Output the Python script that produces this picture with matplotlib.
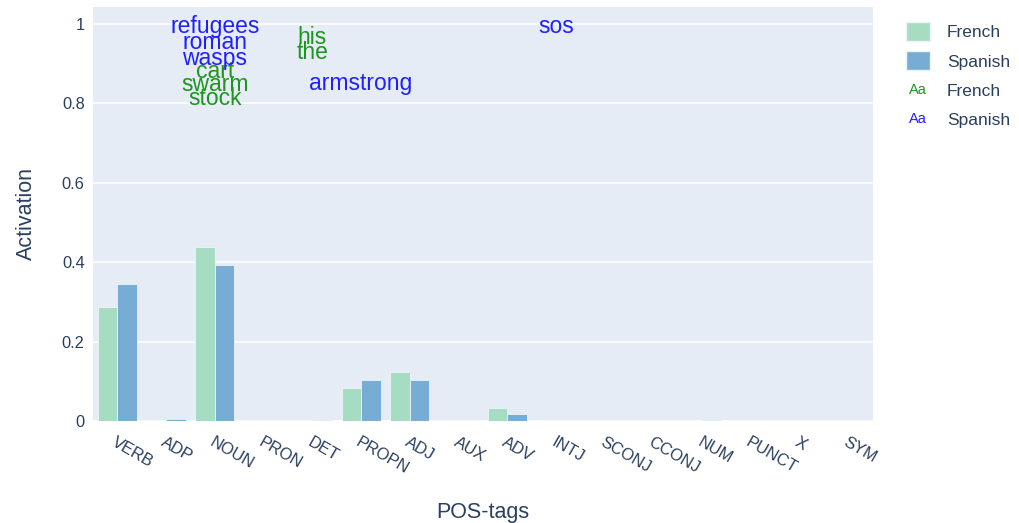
import numpy as np
import matplotlib.pyplot as plt
import matplotlib.text as mtext
from matplotlib.patches import Patch
from matplotlib.legend_handler import HandlerBase

plt.rcParams['font.family'] = ['Liberation Sans', 'DejaVu Sans']

pos_tags = ["VERB", "ADP", "NOUN", "PRON", "DET", "PROPN", "ADJ", "AUX",
            "ADV", "INTJ", "SCONJ", "CCONJ", "NUM", "PUNCT", "X", "SYM"]
french = [0.287, 0.001, 0.438, 0.001, 0.001, 0.083, 0.123, 0.0,
          0.033, 0.0, 0.0, 0.001, 0.0, 0.001, 0.001, 0.001]
spanish = [0.345, 0.006, 0.393, 0.001, 0.003, 0.103, 0.103, 0.0,
           0.017, 0.001, 0.001, 0.001, 0.002, 0.001, 0.001, 0.001]

# top activating words: (word, pos tag, activation)
french_words = [("cart", "NOUN", 0.880), ("swarm", "NOUN", 0.848), ("stock", "NOUN", 0.812),
                ("his", "DET", 0.967), ("the", "DET", 0.928)]
spanish_words = [("refugees", "NOUN", 0.995), ("roman", "NOUN", 0.953), ("wasps", "NOUN", 0.914),
                 ("armstrong", "PROPN", 0.850), ("sos", "INTJ", 0.995)]

fr_bar = '#a6dcc1'
es_bar = '#77acd4'
fr_txt = '#1e961e'
es_txt = '#2020ff'
axis_col = '#2a3f5f'


class TextHandler(HandlerBase):
    def create_artists(self, legend, orig_handle, xdescent, ydescent,
                       width, height, fontsize, trans):
        t = mtext.Text(width / 2 - xdescent, height / 2 - ydescent, "Aa",
                       color=orig_handle.get_color(), fontsize=10.5,
                       ha='center', va='center', transform=trans)
        return [t]


fig = plt.figure(figsize=(10.2, 5.23), dpi=100)
ax = fig.add_axes([93 / 1020, 1 - 421 / 523, 780 / 1020, 414 / 523])
ax.set_facecolor('#e5ecf6')

x = np.arange(len(pos_tags))
w = 0.4
ax.bar(x - w / 2, french, w, color=fr_bar, edgecolor='#eef3f8', linewidth=0.6, zorder=3)
ax.bar(x + w / 2, spanish, w, color=es_bar, edgecolor='#eef3f8', linewidth=0.6, zorder=3)

idx = {p: i for i, p in enumerate(pos_tags)}
for word, tag, val in french_words:
    ax.text(idx[tag], val, word, color=fr_txt, fontsize=16.5, ha='center', va='center', zorder=4)
for word, tag, val in spanish_words:
    ax.text(idx[tag], val, word, color=es_txt, fontsize=16.5, ha='center', va='center', zorder=4)

ax.set_xlim(-0.5, len(pos_tags) - 0.5)
ax.set_ylim(0, 1.043)
ax.set_yticks([0, 0.2, 0.4, 0.6, 0.8, 1])
ax.set_yticklabels(["0", "0.2", "0.4", "0.6", "0.8", "1"])
ax.grid(axis='y', color='white', linewidth=1.2, zorder=0)
ax.set_axisbelow(True)
for s in ax.spines.values():
    s.set_visible(False)
ax.tick_params(length=0, colors=axis_col, labelsize=11.8)
ax.tick_params(axis='y', pad=6)
ax.set_xticks(x)
ax.set_xticklabels(pos_tags, rotation=-30, ha='left', va='top', rotation_mode='anchor')
ax.tick_params(axis='x', pad=10)

ax.set_ylabel("Activation", color=axis_col, fontsize=15.5, labelpad=18)
ax.set_xlabel("POS-tags", color=axis_col, fontsize=15.5, labelpad=18)

handles = [Patch(facecolor=fr_bar, edgecolor='#eef3f8'),
           Patch(facecolor=es_bar, edgecolor='#eef3f8'),
           mtext.Text(color=fr_txt), mtext.Text(color=es_txt)]
leg = fig.legend(handles, ["French", "Spanish", "French", "Spanish"],
                 loc='upper left', bbox_to_anchor=(0.873, 0.988), frameon=False,
                 fontsize=12.5, labelcolor=axis_col, handlelength=1.35, handleheight=1.3,
                 labelspacing=0.6, handletextpad=1.0,
                 handler_map={mtext.Text: TextHandler()})

fig.savefig("out.png", dpi=100)
